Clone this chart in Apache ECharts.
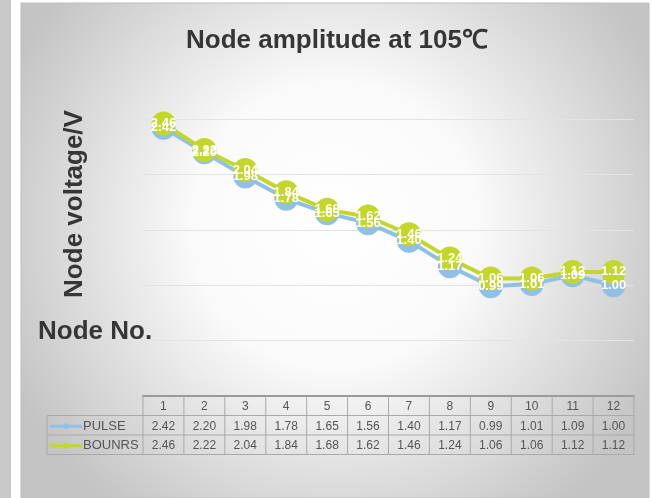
<!DOCTYPE html>
<html>
<head>
<meta charset="utf-8">
<script src="https://cdn.jsdelivr.net/npm/echarts@6/dist/echarts.min.js"></script>
<style>
  html, body { margin: 0; padding: 0; background: #fff; }
  #chart { width: 652px; height: 498px; }
</style>
</head>
<body>
<div id="chart"></div>
<script>
// Node numbers along the category axis
const nodes = ['1', '2', '3', '4', '5', '6', '7', '8', '9', '10', '11', '12'];
// Measured node amplitudes (V)
const pulse  = [2.42, 2.20, 1.98, 1.78, 1.65, 1.56, 1.40, 1.17, 0.99, 1.01, 1.09, 1.00];
const bounrs = [2.46, 2.22, 2.04, 1.84, 1.68, 1.62, 1.46, 1.24, 1.06, 1.06, 1.12, 1.12];
// Series names as shown in the data table
const seriesNames = ['PULSE', 'BOUNRS'];
const seriesColors = ['#8fc0e8', '#c3d62a'];
// Value axis range and gridline step
const yMin = 0, yMax = 2.5, yStep = 0.5;

const FONT = '"Liberation Sans", Arial, sans-serif';
const NARROW = '"Liberation Sans Narrow", "Liberation Sans", Arial, sans-serif';

const chart = echarts.init(document.getElementById('chart'), null, { renderer: 'canvas' });

// Page frame: grey strip, white gap, then the radially shaded panel
const frame = [
  { type: 'rect', z: -10, shape: { x: 0, y: 0, width: 11, height: 498 }, style: { fill: '#c8c8c8' } },
  { type: 'rect', z: -10, shape: { x: 11, y: 0, width: 10, height: 498 }, style: { fill: '#ffffff' } },
  {
    type: 'rect', z: -10,
    shape: { x: 21, y: 3, width: 628, height: 495 },
    style: {
      fill: new echarts.graphic.RadialGradient(0.5, 0.45, 0.72, [
        { offset: 0, color: '#ffffff' },
        { offset: 0.4, color: '#fafafa' },
        { offset: 1, color: '#c4c4c4' }
      ]),
      stroke: '#bdbdbd', lineWidth: 1
    }
  },
  {
    type: 'text', z: 5,
    style: { x: 337, y: 41, text: 'Node amplitude at 105\u2103', font: 'bold 26px ' + FONT,
             fill: '#363636', align: 'center', verticalAlign: 'middle' }
  },
  {
    type: 'text', z: 5, x: 75, y: 204, rotation: Math.PI / 2,
    style: { x: 0, y: 0, text: 'Node voltage/V', font: 'bold 26px ' + FONT,
             fill: '#363636', align: 'center', verticalAlign: 'middle' }
  },
  {
    type: 'text', z: 5,
    style: { x: 38, y: 332, text: 'Node No.', font: 'bold 26px ' + FONT,
             fill: '#363636', align: 'left', verticalAlign: 'middle' }
  }
];

function lineSeries(i, data) {
  return {
    name: seriesNames[i],
    type: 'line',
    data: data,
    symbol: 'circle',
    symbolSize: 24,
    lineStyle: { color: seriesColors[i], width: 4 },
    itemStyle: { color: seriesColors[i] },
    label: {
      show: true, position: 'inside',
      color: '#ffffff', fontFamily: NARROW, fontWeight: 'bold', fontSize: 13,
      formatter: p => p.value.toFixed(2)
    },
    animation: false
  };
}

chart.setOption({
  animation: false,
  grid: { left: 143, right: 18, top: 119, bottom: 102 },
  xAxis: {
    type: 'category', data: nodes, boundaryGap: true,
    axisLine: { show: true, lineStyle: { color: '#9a9a9a', width: 2 } },
    axisTick: { show: false }, axisLabel: { show: false }
  },
  yAxis: {
    type: 'value', min: yMin, max: yMax, interval: yStep,
    axisLine: { show: false }, axisTick: { show: false }, axisLabel: { show: false },
    splitLine: { lineStyle: { color: '#e3e3e3', width: 1 } }
  },
  series: [lineSeries(0, pulse), lineSeries(1, bounrs)],
  graphic: frame
});

// Data table under the plot, aligned to the category axis
const xs = nodes.map(n => chart.convertToPixel({ xAxisIndex: 0 }, n));
const colW = xs[1] - xs[0];
const tLeft = xs[0] - colW / 2;
const tRight = xs[xs.length - 1] + colW / 2;
const tTop = chart.convertToPixel({ yAxisIndex: 0 }, yMin);
const rowH = 19.5;
const keyLeft = 47;
const gridColor = '#a9a9a9';
const cellFont = '12px ' + FONT;
const table = [];

// horizontal rules
table.push({ type: 'line', z: 6, shape: { x1: tLeft, y1: tTop + rowH, x2: tRight, y2: tTop + rowH }, style: { stroke: gridColor } });
table.push({ type: 'line', z: 6, shape: { x1: keyLeft, y1: tTop + rowH, x2: tLeft, y2: tTop + rowH }, style: { stroke: gridColor } });
table.push({ type: 'line', z: 6, shape: { x1: keyLeft, y1: tTop + 2 * rowH, x2: tRight, y2: tTop + 2 * rowH }, style: { stroke: gridColor } });
table.push({ type: 'line', z: 6, shape: { x1: keyLeft, y1: tTop + 3 * rowH, x2: tRight, y2: tTop + 3 * rowH }, style: { stroke: gridColor } });
// vertical rules
for (let k = 0; k <= nodes.length; k++) {
  const x = tLeft + k * colW;
  table.push({ type: 'line', z: 6, shape: { x1: x, y1: tTop, x2: x, y2: tTop + 3 * rowH }, style: { stroke: gridColor } });
}
table.push({ type: 'line', z: 6, shape: { x1: keyLeft, y1: tTop + rowH, x2: keyLeft, y2: tTop + 3 * rowH }, style: { stroke: gridColor } });

// header row
nodes.forEach((n, k) => {
  table.push({ type: 'text', z: 7, style: { x: xs[k], y: tTop + rowH / 2 + 1, text: n, font: cellFont,
    fill: '#555', align: 'center', verticalAlign: 'middle' } });
});
// value rows with legend keys
[pulse, bounrs].forEach((row, r) => {
  const cy = tTop + (r + 1.5) * rowH + 1;
  table.push({ type: 'line', z: 7, shape: { x1: keyLeft + 3, y1: cy, x2: keyLeft + 35, y2: cy },
    style: { stroke: seriesColors[r], lineWidth: 3 } });
  table.push({ type: 'circle', z: 7, shape: { cx: keyLeft + 19, cy: cy, r: 3 },
    style: { fill: seriesColors[r] } });
  table.push({ type: 'text', z: 7, style: { x: keyLeft + 36, y: cy, text: seriesNames[r],
    font: '13px ' + FONT, fill: '#555', align: 'left', verticalAlign: 'middle' } });
  row.forEach((v, k) => {
    table.push({ type: 'text', z: 7, style: { x: xs[k], y: cy, text: v.toFixed(2), font: cellFont,
      fill: '#555', align: 'center', verticalAlign: 'middle' } });
  });
});

chart.setOption({ graphic: frame.concat(table) }, { replaceMerge: ['graphic'] });
</script>
</body>
</html>
